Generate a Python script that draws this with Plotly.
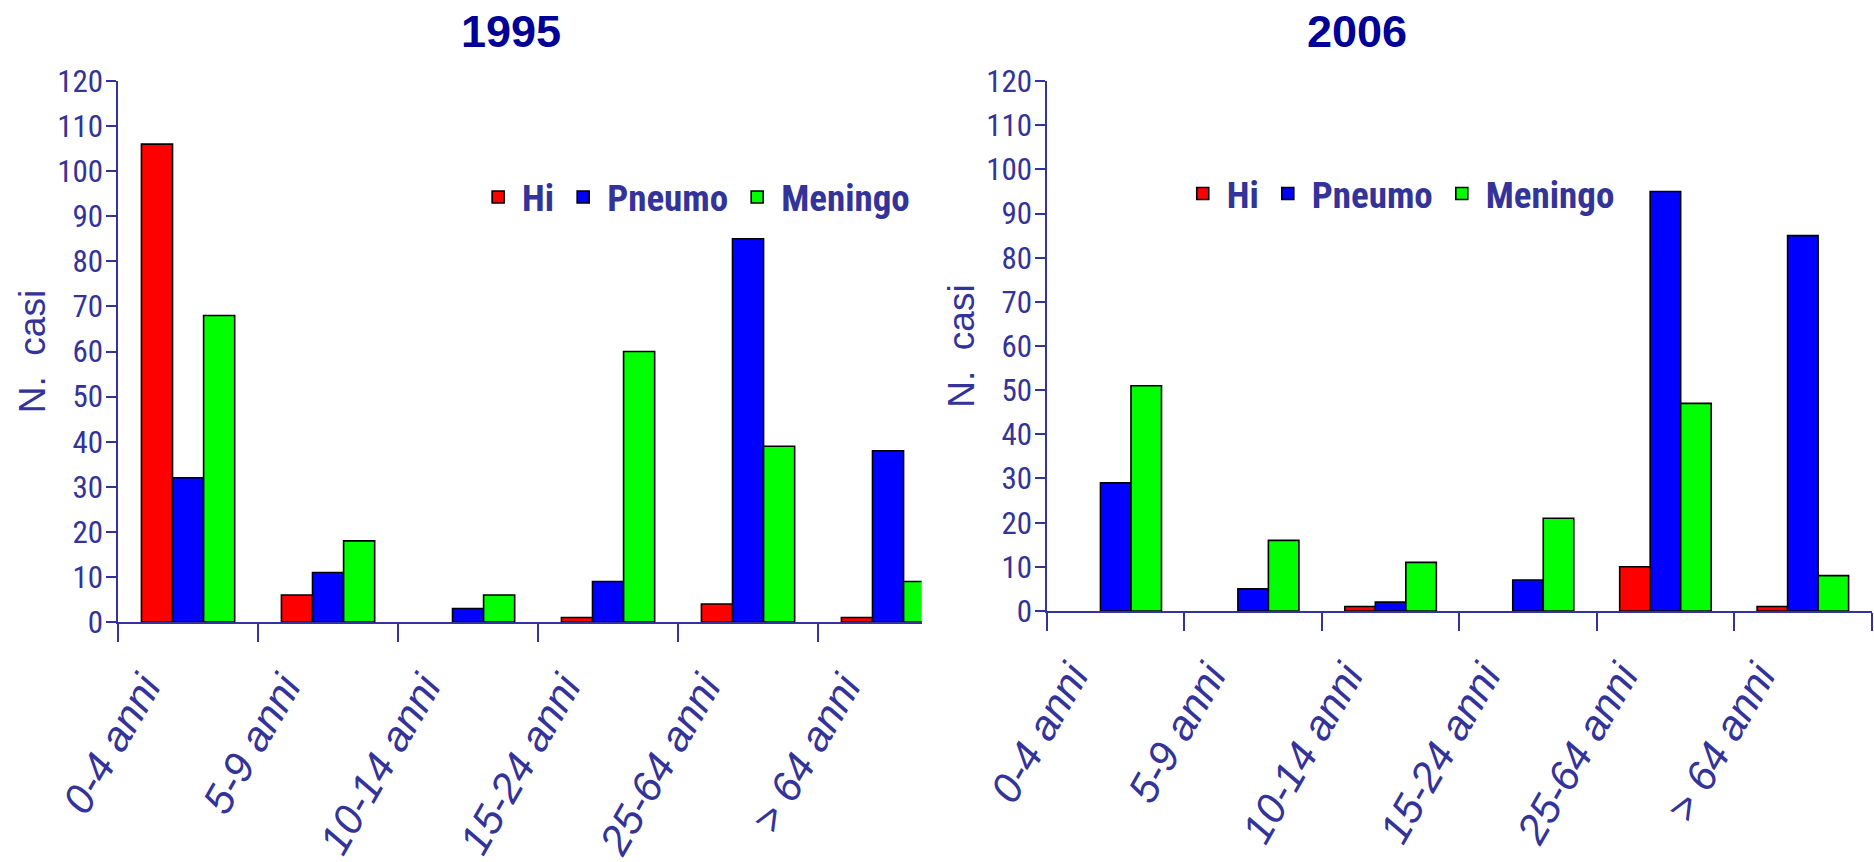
import plotly.graph_objects as go

# Fasce d'età e casi per agente patogeno
categorie = ["0-4 anni", "5-9 anni", "10-14 anni", "15-24 anni", "25-64 anni", "> 64 anni"]

hi_1995 = [106, 6, 0, 1, 4, 1]
pneumo_1995 = [32, 11, 3, 9, 85, 38]
meningo_1995 = [68, 18, 6, 60, 39, 9]

hi_2006 = [0, 0, 1, 0, 10, 1]
pneumo_2006 = [29, 5, 2, 7, 95, 85]
meningo_2006 = [51, 16, 11, 21, 47, 8]

serie = ["Hi", "Pneumo", "Meningo"]
colori = ["#FF0000", "#0000FF", "#00FF00"]

INK = "#333399"
TITLE_INK = "#000099"
NARROW = "Roboto Condensed, DejaVu Sans Condensed, Liberation Sans, Arial, sans-serif"
SANS = "Liberation Sans, Arial, sans-serif"

fig = go.Figure()

pannelli = [
    ("x", "y", "legend", [hi_1995, pneumo_1995, meningo_1995]),
    ("x2", "y2", "legend2", [hi_2006, pneumo_2006, meningo_2006]),
]
for xa, ya, leg, valori in pannelli:
    for nome, colore, v in zip(serie, colori, valori):
        # a category with no cases draws no bar (not even an outline on the baseline)
        altezze = [val if val > 0 else None for val in v]
        fig.add_trace(go.Bar(
            x=categorie, y=altezze, name=nome, xaxis=xa, yaxis=ya, legend=leg,
            marker=dict(color=colore, line=dict(color="#000000", width=1.6)),
        ))

asse_x = dict(
    type="category", showline=True, linecolor=INK, linewidth=1.5, automargin=False,
    ticks="outside", tickson="boundaries", ticklen=18, tickcolor=INK, tickwidth=1.5,
    tickangle=-60, tickfont=dict(family=SANS, size=42, color=INK, style="italic"),
    ticklabelstandoff=22, ticklabelshift=-44,
    showgrid=False, zeroline=False, fixedrange=True,
)
asse_y = dict(
    range=[0, 120], dtick=10, showline=True, linecolor=INK, linewidth=1.5, automargin=False,
    ticks="outside", ticklen=10, tickcolor=INK, tickwidth=1.5,
    tickfont=dict(family=NARROW, size=31, color=INK), ticklabelstandoff=-3,
    showgrid=False, zeroline=False, fixedrange=True,
    title=dict(text="N.  casi", font=dict(family=SANS, size=37, color=INK), standoff=0),
)

legenda = dict(
    orientation="h", xanchor="left", yanchor="middle", itemwidth=38,
    font=dict(family=NARROW, size=37, color=INK, weight="bold"),
    bgcolor="rgba(0,0,0,0)", itemclick=False, itemdoubleclick=False,
)

fig.update_layout(
    width=1874, height=862,
    margin=dict(l=0, r=0, t=0, b=0, autoexpand=False),
    paper_bgcolor="white", plot_bgcolor="white",
    barmode="group", bargap=0.334, bargroupgap=0,
    xaxis=dict(asse_x, domain=[0.0630, 0.4918], range=[-0.5, 5.24], anchor="y"),
    yaxis=dict(asse_y, domain=[0.2784, 0.9060], anchor="x"),
    xaxis2=dict(asse_x, domain=[0.5587, 0.9987], range=[-0.5, 5.5], anchor="y2"),
    yaxis2=dict(asse_y, domain=[0.2912, 0.9060], anchor="x2"),
    legend=dict(legenda, x=0.253, y=0.771),
    legend2=dict(legenda, x=0.629, y=0.775),
    annotations=[
        dict(text="1995", x=511 / 1874, y=1 - 31 / 862, xref="paper", yref="paper",
             showarrow=False, xanchor="center", yanchor="middle",
             font=dict(family=SANS, size=45, color=TITLE_INK, weight="bold")),
        dict(text="2006", x=1357 / 1874, y=1 - 31 / 862, xref="paper", yref="paper",
             showarrow=False, xanchor="center", yanchor="middle",
             font=dict(family=SANS, size=45, color=TITLE_INK, weight="bold")),
    ],
)

fig.write_html("out.html")
